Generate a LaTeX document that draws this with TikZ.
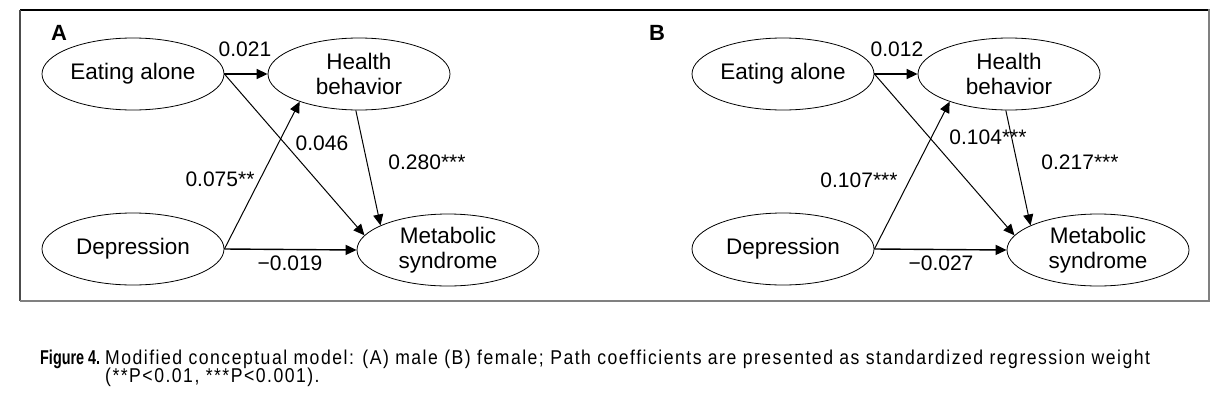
\documentclass[tikz,border=0pt]{standalone}
\usepackage{fontspec}
\setmainfont{Liberation Sans}
\newfontfamily\capfont[FakeStretch=0.88,LetterSpace=7.5]{Liberation Sans}
\newfontfamily\figfont[FakeStretch=0.72]{Liberation Sans}
\usetikzlibrary{arrows.meta,shapes.geometric}
\begin{document}
\begin{tikzpicture}[x=1pt,y=-1pt,
  var/.style={ellipse,draw,line width=0.8pt,minimum width=182pt,minimum height=72pt,
    inner sep=0pt,align=center,font=\fontsize{22.5}{25}\selectfont},
  arr/.style={-{Triangle[length=11pt,width=10pt]},line width=1pt},
  harr/.style={arr,line width=1.4pt},
  coef/.style={font=\fontsize{21}{24}\selectfont,inner sep=0pt},
  panel/.style={font=\bfseries\fontsize{22}{24}\selectfont,inner sep=0pt},
  captxt/.style={anchor=base west,inner sep=0pt,font=\capfont\fontsize{20}{22}\selectfont}]
\useasboundingbox (0,0) rectangle (1229,407);
% frame
\draw[line width=1.2pt,black] (1209,10) -- (20,10);
\draw[line width=1.2pt,black!70] (20,10) -- (20,301);
\draw[line width=2.5pt,black!50] (20,301) -- (1209,301) -- (1209,9.4);
% panel A
\node[panel] (pa) at (59,33) {A};
\node[var] (ea) at (133,74) {Eating alone};
\node[var] (hb) at (359,74) {Health\\behavior};
\node[var] (dp) at (133,249) {Depression};
\node[var] (ms) at (448,250) {Metabolic\\syndrome};
\draw[harr] (ea.east) -- (hb.west);
\draw[arr] (ea.east) -- (ms.170);
\draw[arr] (hb.265) -- (ms.160);
\draw[arr] (dp.east) -- (hb.205);
\draw[harr] (dp.east) -- (ms.west);
\node[coef] (la1) at (245,49) {0.021};
\node[coef] (la2) at (322,143) {0.046};
\node[coef] (la3) at (427,162) {0.280***};
\node[coef] (la4) at (220,179) {0.075**};
\node[coef] (la5) at (290,263) {−0.019};
% panel B
\node[panel] (pb) at (657,33) {B};
\node[var] (eb) at (783,74) {Eating alone};
\node[var] (hbb) at (1009,74) {Health\\behavior};
\node[var] (dpb) at (783,249) {Depression};
\node[var] (msb) at (1098,250) {Metabolic\\syndrome};
\draw[harr] (eb.east) -- (hbb.west);
\draw[arr] (eb.east) -- (msb.170);
\draw[arr] (hbb.265) -- (msb.160);
\draw[arr] (dpb.east) -- (hbb.205);
\draw[harr] (dpb.east) -- (msb.west);
\node[coef] (lb1) at (897,49) {0.012};
\node[coef] (lb2) at (988,137) {0.104***};
\node[coef] (lb3) at (1080,162) {0.217***};
\node[coef] (lb4) at (859,180) {0.107***};
\node[coef] (lb5) at (941,263) {−0.027};
% caption
\node[captxt] (cap1) at (40,364) {\makebox[65pt][l]{\figfont\bfseries Figure 4.}Modified conceptual model: (A) male (B) female; Path coefficients are presented as standardized regression weight};
\node[captxt] (cap2) at (105,382) {(**P<0.01, ***P<0.001).};
\end{tikzpicture}
\end{document}
